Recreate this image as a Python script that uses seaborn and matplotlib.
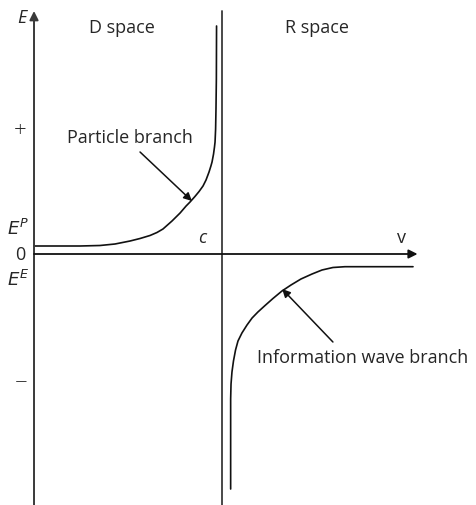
import matplotlib
matplotlib.use("Agg")
import matplotlib.pyplot as plt
import seaborn as sns
import pandas as pd

# velocity in units of c, energy in arbitrary units
particle_v = [0.000, 0.245, 0.351, 0.431, 0.511, 0.564, 0.617, 0.654, 0.686, 0.734,
              0.777, 0.809, 0.830, 0.856, 0.878, 0.899, 0.915, 0.931, 0.941, 0.947,
              0.955, 0.960, 0.963, 0.966, 0.968, 0.970, 0.971]
particle_E = [0.08, 0.08, 0.085, 0.10, 0.13, 0.155, 0.185, 0.215, 0.25, 0.33,
              0.41, 0.48, 0.52, 0.575, 0.625, 0.68, 0.74, 0.82, 0.88, 0.92,
              1.00, 1.07, 1.12, 1.25, 1.45, 1.75, 2.28]

wave_v = [1.046, 1.046, 1.048, 1.053, 1.061, 1.072, 1.085, 1.106, 1.133, 1.160,
          1.191, 1.229, 1.271, 1.319, 1.367, 1.420, 1.479, 1.532, 1.590, 1.654, 2.016]
wave_E = [-2.35, -1.45, -1.30, -1.18, -1.07, -0.96, -0.87, -0.79, -0.71, -0.64,
          -0.58, -0.515, -0.445, -0.37, -0.31, -0.25, -0.20, -0.16, -0.135, -0.127, -0.127]

c_value = 1.0
region_labels = ["D space", "R space"]
branch_labels = ["Particle branch", "Information wave branch"]
ytick_labels = ["+", "0", "\u2212"]

sns.set_theme(style="white")
plt.rcParams['font.family'] = ['Open Sans', 'DejaVu Sans']

fig = plt.figure(figsize=(4.77, 5.06), dpi=100)
ax = fig.add_axes([0, 0, 1, 1])
ax.set_xlim(-0.1809, 2.3564)
ax.set_ylim(-2.51, 2.55)
ax.axis("off")

axis_col = "#3a3a3a"
# axes
ax.annotate("", xy=(0, 2.43), xytext=(0, -2.55),
            arrowprops=dict(arrowstyle="-|>", color=axis_col, lw=1.4,
                            mutation_scale=13, shrinkA=0, shrinkB=0))
ax.annotate("", xy=(2.04, 0), xytext=(0, 0),
            arrowprops=dict(arrowstyle="-|>", color="#111111", lw=1.3,
                            mutation_scale=13, shrinkA=0, shrinkB=0))
ax.plot([c_value, c_value], [2.43, -2.55], color=axis_col, lw=1.3)

dfp = pd.DataFrame({"v": particle_v, "E": particle_E})
dfw = pd.DataFrame({"v": wave_v, "E": wave_E})
sns.lineplot(data=dfp, x="v", y="E", sort=False, estimator=None,
             color="#111111", lw=1.2, ax=ax)
sns.lineplot(data=dfw, x="v", y="E", sort=False, estimator=None,
             color="#111111", lw=1.2, ax=ax)

fs = 13
ax.text(-0.065, 2.37, "E", fontsize=fs, style="italic", ha="center", va="center")
ax.text(0.47, 2.27, region_labels[0], fontsize=fs, ha="center", va="center")
ax.text(1.505, 2.27, region_labels[1], fontsize=fs, ha="center", va="center")
ax.text(-0.075, 1.23, ytick_labels[0], fontsize=16, ha="center", va="center",
        fontweight="light")
ax.text(-0.075, 0.0, ytick_labels[1], fontsize=fs, ha="center", va="center")
ax.text(-0.07, -1.28, ytick_labels[2], fontsize=16, ha="center", va="center",
        fontweight="light")
ax.text(-0.085, 0.26, "$\\mathit{E}^{\\mathit{P}}$", fontsize=fs, ha="center", va="center")
ax.text(-0.085, -0.25, "$\\mathit{E}^{\\mathit{E}}$", fontsize=fs, ha="center", va="center")
ax.text(0.894, 0.17, "c", fontsize=fs, style="italic", ha="center", va="center")
ax.text(1.957, 0.17, "v", fontsize=fs, ha="center", va="center")

ax.text(0.51, 1.17, branch_labels[0], fontsize=fs, ha="center", va="center")
ax.annotate("", xy=(0.84, 0.53), xytext=(0.564, 1.02),
            arrowprops=dict(arrowstyle="-|>", color="#111111", lw=1.1,
                            mutation_scale=12, shrinkA=0, shrinkB=0))
ax.text(1.75, -1.03, branch_labels[1], fontsize=fs, ha="center", va="center")
ax.annotate("", xy=(1.32, -0.35), xytext=(1.59, -0.88),
            arrowprops=dict(arrowstyle="-|>", color="#111111", lw=1.1,
                            mutation_scale=12, shrinkA=0, shrinkB=0))

fig.savefig("out.png", dpi=100)
